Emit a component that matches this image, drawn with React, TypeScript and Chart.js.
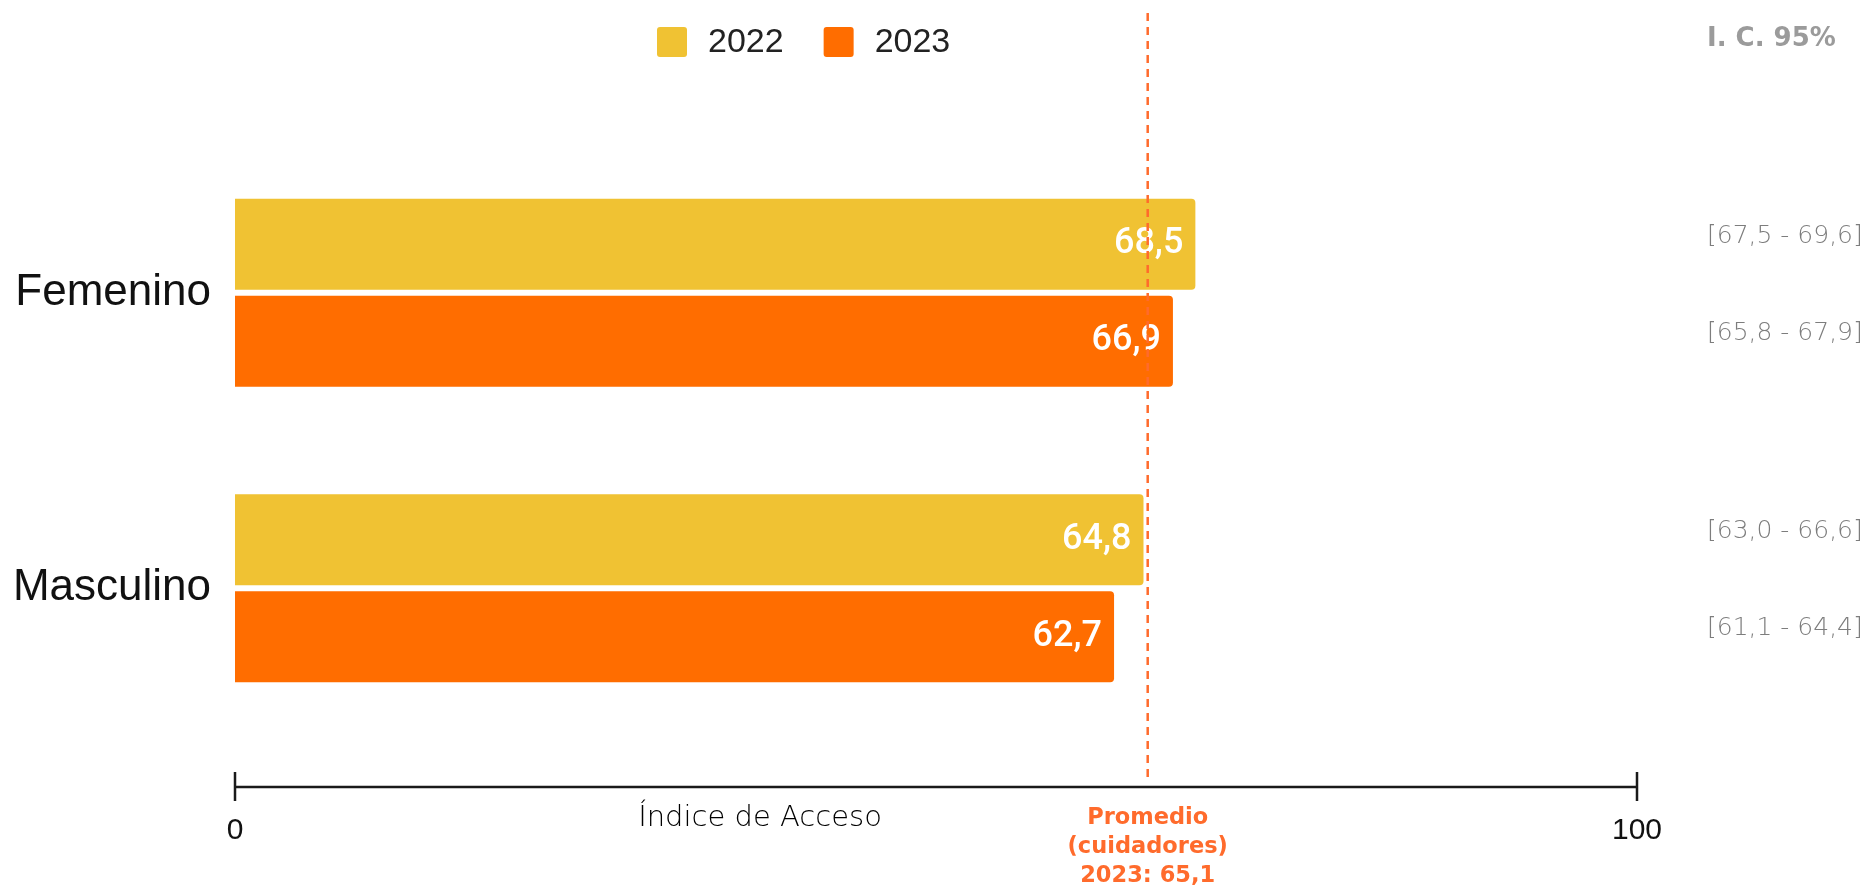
import React, { useEffect, useRef } from 'react';
import { Chart, registerables } from 'chart.js';

Chart.register(...registerables);

// ---- data ----
const categories = ['Femenino', 'Masculino'];
const seriesLabels = ['2022', '2023'];
const values2022 = [68.5, 64.8];
const values2023 = [66.9, 62.7];
const ciLow2022 = [67.5, 63.0];
const ciHigh2022 = [69.6, 66.6];
const ciLow2023 = [65.8, 61.1];
const ciHigh2023 = [67.9, 64.4];
const average2023 = 65.1;
const axisMin = 0;
const axisMax = 100;
const axisTitle = 'Índice de Acceso';
const ciTitle = 'I. C. 95%';
const averageTitle = ['Promedio', '(cuidadores)'];
const averageYear = '2023';

const COLORS = ['#F0C233', '#FF6D00'];
const AVG_COLOR = '#FF6B2C';
const ARIAL = "'Liberation Sans', Arial, Helvetica, sans-serif";
const MONT = "'DejaVu Sans', 'Open Sans', sans-serif";

const fmt = (v: number) => v.toFixed(1).replace('.', ',');

const ciLows = [ciLow2022, ciLow2023];
const ciHighs = [ciHigh2022, ciHigh2023];

const overlayPlugin = {
  id: 'overlay',
  afterDraw(chart: any) {
    const { ctx, chartArea, scales } = chart;
    const x = scales.x;
    const axisY = chartArea.bottom + 51;
    ctx.save();

    // value labels inside bars + CI labels on the right
    chart.data.datasets.forEach((ds: any, di: number) => {
      const meta = chart.getDatasetMeta(di);
      meta.data.forEach((bar: any, i: number) => {
        ctx.font = '500 36px Roboto, sans-serif';
        ctx.fillStyle = '#ffffff';
        ctx.textAlign = 'right';
        ctx.textBaseline = 'middle';
        ctx.fillText(fmt(ds.data[i]), bar.x - 12, bar.y);

        ctx.font = `300 25px ${MONT}`;
        ctx.fillStyle = '#7d7d7d';
        ctx.textAlign = 'left';
        ctx.fillText(`[${fmt(ciLows[di][i])} - ${fmt(ciHighs[di][i])}]`, chartArea.right + 70, bar.y - 8);
      });
    });

    // CI header
    ctx.font = `bold 26px ${MONT}`;
    ctx.fillStyle = '#9b9b9b';
    ctx.textAlign = 'left';
    ctx.textBaseline = 'middle';
    ctx.fillText(ciTitle, chartArea.right + 70, 39);

    // legend
    let lx = chartArea.left + 422;
    const ly = 42;
    chart.data.datasets.forEach((ds: any) => {
      ctx.fillStyle = ds.backgroundColor;
      ctx.beginPath();
      (ctx as any).roundRect ? ctx.roundRect(lx, ly - 15, 30, 30, 3) : ctx.rect(lx, ly - 15, 30, 30);
      ctx.fill();
      ctx.font = `34px ${ARIAL}`;
      ctx.fillStyle = '#222222';
      ctx.textAlign = 'left';
      ctx.textBaseline = 'middle';
      ctx.fillText(ds.label, lx + 51, ly + 1);
      lx += 51 + ctx.measureText(ds.label).width + 40;
    });

    // axis line with end ticks
    const x0 = x.getPixelForValue(axisMin);
    const x1 = x.getPixelForValue(axisMax);
    ctx.strokeStyle = '#1a1a1a';
    ctx.lineWidth = 2.5;
    ctx.setLineDash([]);
    ctx.beginPath();
    ctx.moveTo(x0, axisY);
    ctx.lineTo(x1, axisY);
    [x0, x1].forEach((px) => {
      ctx.moveTo(px, axisY - 15);
      ctx.lineTo(px, axisY + 14);
    });
    ctx.stroke();

    // axis title
    ctx.font = `300 29px ${MONT}`;
    ctx.fillStyle = '#000000';
    ctx.textAlign = 'center';
    ctx.textBaseline = 'alphabetic';
    ctx.fillText(axisTitle, chartArea.left + (chartArea.right - chartArea.left) * 0.3745, axisY + 39);

    // average dashed line
    const ax = x.getPixelForValue(average2023);
    ctx.strokeStyle = AVG_COLOR;
    ctx.lineWidth = 2.5;
    ctx.setLineDash([8, 6]);
    ctx.beginPath();
    ctx.moveTo(ax, 13);
    ctx.lineTo(ax, axisY - 9);
    ctx.stroke();
    ctx.setLineDash([]);

    // average label
    ctx.font = `bold 22.5px ${MONT}`;
    ctx.fillStyle = AVG_COLOR;
    ctx.textAlign = 'center';
    ctx.textBaseline = 'alphabetic';
    const lines = [...averageTitle, `${averageYear}: ${fmt(average2023)}`];
    lines.forEach((t, i) => ctx.fillText(t, ax, axisY + 37 + i * 29));

    ctx.restore();
  },
};

export default function App() {
  const canvasRef = useRef<HTMLCanvasElement | null>(null);

  useEffect(() => {
    if (!canvasRef.current) return;
    const chart = new Chart(canvasRef.current, {
      type: 'bar',
      data: {
        labels: categories,
        datasets: [
          {
            label: seriesLabels[0],
            data: values2022,
            backgroundColor: COLORS[0],
            borderRadius: 4,
            barPercentage: 0.938,
            categoryPercentage: 0.6565,
          },
          {
            label: seriesLabels[1],
            data: values2023,
            backgroundColor: COLORS[1],
            borderRadius: 4,
            barPercentage: 0.938,
            categoryPercentage: 0.6565,
          },
        ],
      },
      options: {
        indexAxis: 'y',
        animation: false,
        responsive: true,
        maintainAspectRatio: false,
        layout: { padding: { top: 145, right: 232, left: 0, bottom: 0 } },
        plugins: {
          legend: { display: false },
          tooltip: { enabled: false },
        },
        scales: {
          x: {
            min: axisMin,
            max: axisMax,
            ticks: {
              stepSize: axisMax - axisMin,
              padding: 77,
              color: '#111111',
              font: { family: ARIAL, size: 30 },
              maxRotation: 0,
            },
            grid: { display: false, drawTicks: false },
            border: { display: false },
            afterFit: (s: any) => {
              s.height = 149;
            },
          },
          y: {
            ticks: {
              padding: 24,
              color: '#111111',
              font: { family: ARIAL, size: 44 },
            },
            grid: { display: false, drawTicks: false },
            border: { display: false },
            afterFit: (s: any) => {
              s.width = 235;
            },
          },
        },
      } as any,
      plugins: [overlayPlugin],
    });
    return () => chart.destroy();
  }, []);

  return (
    <div
      style={{
        position: 'fixed',
        left: 0,
        top: 0,
        width: 1869,
        height: 885,
        background: '#ffffff',
      }}
    >
      <canvas ref={canvasRef} />
    </div>
  );
}
